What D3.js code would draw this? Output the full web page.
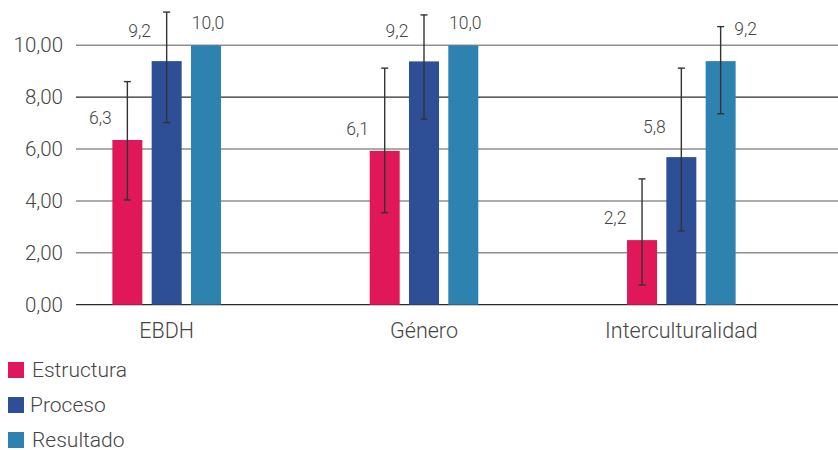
<!DOCTYPE html>
<html>
<head>
<meta charset="utf-8">
<script src="https://cdn.jsdelivr.net/npm/d3@7/dist/d3.min.js"></script>
<style>
  html, body { margin: 0; padding: 0; background: #fff; }
  svg { display: block; font-family: Roboto, "Noto Sans", sans-serif; }
</style>
</head>
<body>
<svg id="chart" width="838" height="450"></svg>
<script>
// ---- data ----
const categories = ["EBDH", "Género", "Interculturalidad"];
const seriesNames = ["Estructura", "Proceso", "Resultado"];
const estructura = [6.35, 5.93, 2.49];
const proceso = [9.39, 9.38, 5.69];
const resultado = [10.0, 10.0, 9.39];
const estructuraLabels = ["6,3", "6,1", "2,2"];
const procesoLabels = ["9,2", "9,2", "5,8"];
const resultadoLabels = ["10,0", "10,0", "9,2"];
const estructuraLow = [4.04, 3.55, 0.76];
const estructuraHigh = [8.60, 9.12, 4.85];
const procesoLow = [7.02, 7.15, 2.84];
const procesoHigh = [11.28, 11.17, 9.12];
const resultadoLow = [null, null, 7.36];
const resultadoHigh = [null, null, 10.72];
const yTicks = [0, 2, 4, 6, 8, 10];

const colors = ["#e0185a", "#2e4f96", "#2e82b0"];

const seriesData = [
  { name: seriesNames[0], values: estructura, labels: estructuraLabels, low: estructuraLow, high: estructuraHigh },
  { name: seriesNames[1], values: proceso, labels: procesoLabels, low: procesoLow, high: procesoHigh },
  { name: seriesNames[2], values: resultado, labels: resultadoLabels, low: resultadoLow, high: resultadoHigh }
];

const svg = d3.select("#chart");
const gridLeft = 76, gridRight = 838;

const y = d3.scaleLinear().domain([0, 10]).range([304.7, 45.3]);
const x0 = d3.scaleBand().domain(categories).range([38, 810]).paddingInner(0).paddingOuter(0);
const x1 = d3.scaleBand().domain(seriesNames).range([0, 108.6]).paddingInner(0.237).paddingOuter(0);
const groupOffset = x0.bandwidth() / 2 - 108.6 / 2;

const fmt = v => d3.format(".2f")(v).replace(".", ",");
const textColor = "#454545";

// gridlines
svg.append("g").selectAll("line").data(yTicks).join("line")
  .attr("x1", gridLeft).attr("x2", gridRight)
  .attr("y1", d => y(d)).attr("y2", d => y(d))
  .attr("stroke", d => (d === 0 || d === 8) ? "#2a2a2a" : "#8f8f8f")
  .attr("stroke-width", d => (d === 0 || d === 8) ? 1.2 : 1.6);

// y axis labels
const yAxis = d3.axisLeft(y).tickValues(yTicks).tickFormat(fmt).tickSize(0).tickPadding(0);
const yg = svg.append("g").attr("transform", "translate(63,0)").call(yAxis);
yg.select(".domain").remove();
yg.selectAll("text").attr("font-size", 20.5).attr("font-weight", 300).attr("fill", textColor)
  .attr("font-family", "Roboto, sans-serif");

// x axis labels
const xAxis = d3.axisBottom(x0).tickSize(0).tickPadding(0);
const xg = svg.append("g").attr("transform", "translate(0,0)").call(xAxis);
xg.select(".domain").remove();
xg.selectAll("text").attr("font-size", 21.5).attr("font-weight", 300).attr("fill", textColor)
  .attr("font-family", "Roboto, sans-serif").attr("dy", null).attr("y", 337.7);

// bars
const groups = svg.append("g").selectAll("g").data(categories).join("g")
  .attr("transform", c => `translate(${x0(c) + groupOffset},0)`);

seriesData.forEach((s, si) => {
  groups.append("rect")
    .attr("x", x1(s.name))
    .attr("width", x1.bandwidth())
    .attr("y", (c, i) => y(s.values[i]))
    .attr("height", (c, i) => y(0) - y(s.values[i]))
    .attr("fill", colors[si]);
});

// error bars
seriesData.forEach((s, si) => {
  groups.each(function (c, i) {
    if (s.low[i] == null) return;
    const g = d3.select(this);
    const cx = x1(s.name) + x1.bandwidth() / 2;
    const stroke = "#333";
    g.append("line").attr("x1", cx).attr("x2", cx)
      .attr("y1", y(s.low[i])).attr("y2", y(s.high[i]))
      .attr("stroke", stroke).attr("stroke-width", 1.4);
    [s.low[i], s.high[i]].forEach(v => {
      g.append("line").attr("x1", cx - 3.5).attr("x2", cx + 3.5)
        .attr("y1", y(v)).attr("y2", y(v))
        .attr("stroke", stroke).attr("stroke-width", 1.4);
    });
  });
});

// data labels
seriesData.forEach((s, si) => {
  groups.append("text")
    .text((c, i) => s.labels[i])
    .attr("text-anchor", "middle")
    .attr("font-size", 17.5).attr("font-weight", 300).attr("fill", textColor)
    .attr("x", (c, i) => {
      const cx = x1(s.name) + x1.bandwidth() / 2;
      if (si < 2) return cx - 27;
      return s.low[i] != null ? cx + 25 : cx + 2;
    })
    .attr("y", (c, i) => {
      const top = y(s.values[i]);
      if (si === 0) return top - 16;
      if (si === 1) return top - 24;
      return s.low[i] != null ? top - 26 : top - 16;
    });
});

// legend
const legend = svg.append("g").selectAll("g").data(seriesNames).join("g")
  .attr("transform", (d, i) => `translate(8,${362 + i * 35})`);
legend.append("rect").attr("width", 16).attr("height", 16).attr("fill", (d, i) => colors[i]);
legend.append("text").text(d => d)
  .attr("x", (d, i) => i === 1 ? 22 : 24).attr("y", 15)
  .attr("font-size", 21).attr("font-weight", 300).attr("fill", textColor);
</script>
</body>
</html>
